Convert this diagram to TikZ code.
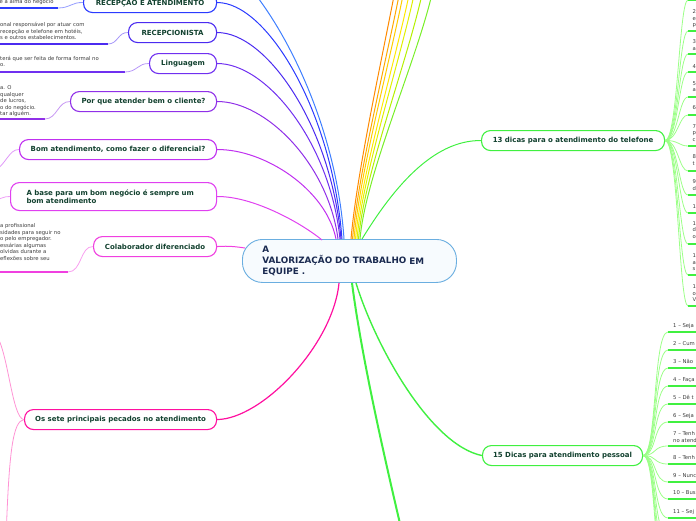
\documentclass[tikz,border=0pt]{standalone}
\usepackage{fontspec}
\setmainfont{DejaVu Sans}
\definecolor{tcol}{HTML}{12412F}
\definecolor{lcol}{HTML}{3C3C3C}
\definecolor{rootc}{HTML}{1A2A50}
\definecolor{rootb}{HTML}{6AAEE0}
\definecolor{rootf}{HTML}{F7FBFE}
\definecolor{cA}{HTML}{3F7FFF}
\definecolor{cB}{HTML}{2B3BFF}
\definecolor{cC}{HTML}{4B2BF0}
\definecolor{cD}{HTML}{7030F0}
\definecolor{cE}{HTML}{9030E8}
\definecolor{cF}{HTML}{C030F0}
\definecolor{cG}{HTML}{E040F0}
\definecolor{cH}{HTML}{F040E0}
\definecolor{cI}{HTML}{FF10A0}
\definecolor{gA}{HTML}{40F040}
\definecolor{gL}{HTML}{9CFF88}
\definecolor{r1}{HTML}{FF8A00}
\definecolor{r2}{HTML}{FFA800}
\definecolor{r3}{HTML}{FFCC00}
\definecolor{r4}{HTML}{FFE800}
\definecolor{r5}{HTML}{E0F000}
\definecolor{r6}{HTML}{B4F000}
\definecolor{r7}{HTML}{78EE28}
\newcommand{\tfont}{\fontsize{7}{8.6}\selectfont\bfseries}
\newcommand{\lfont}{\fontsize{5.3}{6.6}\selectfont}
\newcommand{\rfont}{\fontsize{8.8}{11}\selectfont\bfseries}
\tikzset{
  topic/.style={draw=#1, line width=1.1pt, rounded corners=9pt, fill=white,
    text=tcol, font=\tfont, inner sep=0pt, minimum height=20pt, anchor=north west},
  leaf/.style={font=\lfont, text=lcol, align=left, inner sep=0pt, anchor=north west},
  bar/.style={draw=#1, line width=1.8pt},
  link/.style={draw=#1, line width=1pt},
  thin/.style={draw=#1, line width=0.8pt},
}
\begin{document}
\begin{tikzpicture}[x=1pt,y=-1pt]
\useasboundingbox (0,0) rectangle (696,520);
\clip (0,0) rectangle (696,520);

% ---------- nodes ----------
\node[draw=rootb, line width=0.9pt, fill=rootf, rounded corners=20pt, anchor=north west,
  minimum width=214pt, minimum height=43pt, text width=174pt, inner xsep=20pt, inner ysep=0pt,
  align=left, text=rootc, font=\rfont] (root) at (242,239)
  {A\\\mbox{VALORIZAÇÃO DO TRABALHO \raisebox{-1.2pt}{EM}}\\EQUIPE .};

\node[topic=cB, minimum width=133pt] (recep) at (83,-8) {RECEPÇÃO E ATENDIMENTO};
\node[topic=cC, minimum width=88pt] (recepc) at (128,22) {RECEPCIONISTA};
\node[topic=cD, minimum width=67pt] (ling) at (149,53) {Linguagem};
\node[topic=cE, minimum width=146pt] (porque) at (70,91) {Por que atender bem o cliente?};
\node[topic=cF, minimum width=197pt] (bomat) at (19,139) {Bom atendimento, como fazer o diferencial?};
\node[topic=cG, minimum width=206pt, minimum height=28pt, text width=174pt, inner xsep=16pt,
  align=left] (abase) at (10,182) {\mbox{A base para um bom negócio é sempre um}\\bom atendimento};
\node[topic=cH, minimum width=123pt] (colab) at (93,236) {Colaborador diferenciado};
\node[topic=cI, minimum width=192pt] (sete) at (24,409) {Os sete principais pecados no atendimento};
\node[topic=gA, minimum width=183pt] (dicas13) at (481,130) {13 dicas para o atendimento do telefone};
\node[topic=gA, minimum width=160pt] (dicas15) at (482,445) {15 Dicas para atendimento pessoal};

% leaf texts on the left
\node[leaf] (lrecep) at (-0.5,-0.7) {e a alma do negocio};
\node[leaf] (lrecepc) at (0,22.3) {onal responsável por atuar com\\recepção e telefone em hotéis,\\s e outros estabelecimentos.};
\node[leaf] (lling) at (0,55.6) {terá que ser feita de forma formal no\\o.};
\node[leaf] (lporque) at (0,85.3) {a. O\\qualquer\\de lucros,\\o do negócio.\\tar alguém.};
\node[leaf] (lcolab) at (0,223.3) {a profissional\\sidades para seguir no\\o pelo empregador.\\essárias algumas\\olvidas durante a\\eflexões sobre seu};

% ---------- anchor coordinates ----------
\coordinate (rA) at (344,239);
\coordinate (rB) at (342,239);
\coordinate (rC) at (341,239);
\coordinate (rD) at (340,239);
\coordinate (rE) at (338,239);
\coordinate (rF) at (336,239);
\coordinate (rG) at (322,240);
\coordinate (rH) at (245,248);
\coordinate (rI) at (339,283);
\coordinate (rT) at (362,239);
\coordinate (rP) at (356,283);
\coordinate (rQ) at (352,283);
\coordinate (offA) at (200,-50);
\coordinate (offQ) at (405,545);

% ---------- root links ----------
\draw[link=cA] (rA) .. controls (334,90) and (245,-45) .. (offA);
\draw[link=cB] (rB) .. controls (332,109) and (266,2) .. (recep.east);
\draw[link=cC] (rC) .. controls (331,125) and (266,32) .. (recepc.east);
\draw[link=cD] (rD) .. controls (330,142) and (266,63) .. (ling.east);
\draw[link=cE] (rE) .. controls (328,163) and (265,101) .. (porque.east);
\draw[link=cF] (rF) .. controls (326,189) and (264,149) .. (bomat.east);
\draw[link=cG] (rG) .. controls (300,222) and (252,196) .. (abase.east);
\draw[link=cH] (rH) .. controls (232,246) and (225,246) .. (colab.east);
\draw[link=cI, line width=1.2pt] (rI) .. controls (333,345) and (262,419) .. (sete.east);
\draw[link=gA] (rT) .. controls (392,190) and (432,140) .. (dicas13.west);
\draw[link=gA, line width=1.4pt] (rP) .. controls (375,345) and (430,445) .. (dicas15.west);
\draw[link=gA, line width=2pt] (rQ) .. controls (362,360) and (385,460) .. (offQ);

% rainbow lines to topics above the picture
\foreach \sx/\tx/\col [count=\i] in {351/392/r1, 352.5/397/r2, 354/401/r3, 355.5/407/r4, 357/412/r5, 358.5/420/r6, 360/430/r7}{
  \coordinate (rs\i) at (\sx,239);
  \coordinate (rt\i) at (\tx+5,-20);
  \draw[link=\col] (rs\i) .. controls (\sx+6,170) and (\tx-8,50) .. (rt\i);
}

% ---------- leaf bars and links on the left ----------
\coordinate (b1a) at (0,8);   \coordinate (b1b) at (58,8);
\draw[bar=cB] (b1a) -- (b1b);
\draw[thin=cB!50] (b1b) .. controls (70,8) and (72,2) .. (recep.west);
\coordinate (b2a) at (0,44);  \coordinate (b2b) at (108,44);
\draw[bar=cC] (b2a) -- (b2b);
\draw[thin=cC!50] (b2b) .. controls (118,44) and (118,32) .. (recepc.west);
\coordinate (b3a) at (0,72);  \coordinate (b3b) at (125,72);
\draw[bar=cD] (b3a) -- (b3b);
\draw[thin=cD!50] (b3b) .. controls (137,72) and (138,63) .. (ling.west);
\coordinate (b4a) at (0,119); \coordinate (b4b) at (45,119);
\draw[bar=cE] (b4a) -- (b4b);
\draw[thin=cE!50] (b4b) .. controls (57,119) and (58,101) .. (porque.west);
\coordinate (b7a) at (0,272); \coordinate (b7b) at (68,272);
\draw[bar=cH] (b7a) -- (b7b);
\draw[thin=cH!50] (b7b) .. controls (82,272) and (80,246) .. (colab.west);

\coordinate (bomoff) at (-6,171);
\draw[thin=cF!50] (bomat.west) .. controls (9,149) and (6,165) .. (bomoff);
\coordinate (abaseoff) at (-6,200);
\draw[thin=cG!50] (abase.west) .. controls (4,196) and (2,199) .. (abaseoff);
\coordinate (seteup) at (-4,335);
\coordinate (setedn) at (6,540);
\draw[thin=cI!45] (sete.west) .. controls (12,419) and (8,350) .. (seteup);
\draw[thin=cI!45] (sete.west) .. controls (13,421) and (9,450) .. (setedn);

% ---------- 13 dicas items ----------
\foreach \by/\ty/\txt [count=\i] in {0/-13/{}, 31/12/{2 –\\e\\p}, 54/42/{3 –\\a}, 72/67/{4 –},
   97/84/{5 –\\a}, 115/108/{6 –}, 146/127/{7 –\\p\\c}, 171/157/{8 –\\t}, 195/182/{9 –\\d},
   213/207/{10 –}, 244/224/{11 –\\d\\o}, 275/256/{12 –\\a\\s}, 306/287/{13 –\\o\\V}}{
  \coordinate (ua\i) at (688,\by);
  \coordinate (ub\i) at (697,\by);
  \draw[thin=gL] (dicas13.east) .. controls (678,140) and (679,\by) .. (ua\i);
  \draw[bar=gA] (ua\i) -- (ub\i);
  \node[leaf] (ut\i) at (692.5,\ty-2.7) {\txt};
}

% ---------- 15 dicas items ----------
\foreach \by/\ty/\txt [count=\i] in {332/326/{1 – Seja}, 350/344/{2 – Cum}, 368/362/{3 – Não},
   386/380/{4 – Faça}, 404/398/{5 – Dê t}, 422/416/{6 – Seja}, 446/434/{7 – Tenh\\no atend},
   464/458/{8 – Tenh}, 482/476/{9 – Nunc}, 499/493/{10 – Bus}, 518/512/{11 – Sej},
   536/530/{}, 554/548/{}, 572/566/{}, 590/584/{}}{
  \coordinate (va\i) at (668,\by);
  \coordinate (vb\i) at (697,\by);
  \draw[thin=gL] (dicas15.east) .. controls (657,455) and (653,\by) .. (va\i);
  \draw[bar=gA] (va\i) -- (vb\i);
  \node[leaf] (vt\i) at (673,\ty-2.7) {\txt};
}
\end{tikzpicture}
\end{document}
